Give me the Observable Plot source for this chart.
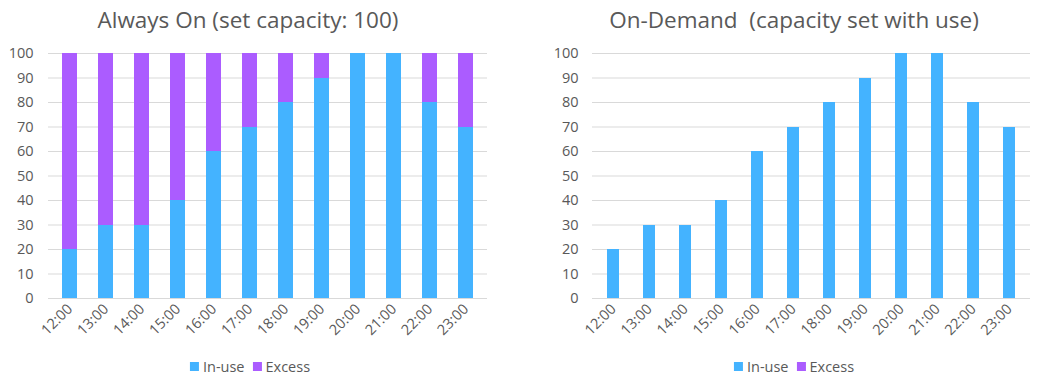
<!DOCTYPE html>
<html><head><meta charset="utf-8">
<script src="https://cdn.jsdelivr.net/npm/d3@7"></script>
<script src="https://cdn.jsdelivr.net/npm/@observablehq/plot@0.6"></script>
<style>
body{margin:0;background:#fff;font-family:"Open Sans",sans-serif;color:#595959;}
#wrap{position:relative;width:1043px;height:388px;overflow:hidden;}
.title{position:absolute;font-size:22.5px;white-space:pre;transform:translateX(-50%);top:4px;}
.chart{position:absolute;top:40px;}
.legend{position:absolute;top:357px;transform:translateX(-50%);font-size:14.5px;display:flex;align-items:center;white-space:nowrap;}
.sw{display:inline-block;width:9px;height:9px;margin-right:4px;}
.item{display:flex;align-items:center;margin-right:8px;}
</style></head>
<body><div id="wrap"></div>
<script>
const hours = ["12:00","13:00","14:00","15:00","16:00","17:00","18:00","19:00","20:00","21:00","22:00","23:00"];
const inUse = [20,30,30,40,60,70,80,90,100,100,80,70];
const excessAlwaysOn = [80,70,70,60,40,30,20,10,0,0,20,30];
const excessOnDemand = [0,0,0,0,0,0,0,0,0,0,0,0];
const seriesNames = ["In-use","Excess"];
const colors = ["#44B3FF","#AB5CFF"];
const yTicks = [0,10,20,30,40,50,60,70,80,90,100];

const wrap = document.getElementById("wrap");

function table(excess){
  const rows=[];
  hours.forEach((h,i)=>{
    rows.push({hour:h,series:seriesNames[0],value:inUse[i]});
    rows.push({hour:h,series:seriesNames[1],value:excess[i]});
  });
  return rows;
}

function chart(excess, opts){
  const p = Plot.plot({
    width: opts.width, height: 308,
    marginTop: 13, marginBottom: 50, marginLeft: opts.ml, marginRight: opts.mr,
    style:{fontFamily:'"Open Sans",sans-serif',fontSize:"14px",color:"#595959",background:"transparent"},
    x:{domain:hours,paddingInner:opts.pad,paddingOuter:opts.pad/2,label:null},
    y:{domain:[0,100],label:null},
    color:{domain:seriesNames,range:colors},
    marks:[
      Plot.gridY(yTicks,{stroke:"#D9D9D9",strokeOpacity:1,strokeWidth:1.2}),
      Plot.barY(table(excess),{x:"hour",y:"value",fill:"series",order:seriesNames,shapeRendering:"crispEdges"}),
      Plot.axisY(yTicks,{tickSize:0,tickPadding:opts.tp,label:null,fill:"#595959",fontSize:14.5}),
      Plot.axisX({tickSize:0,tickPadding:8,tickRotate:-45,label:null,fill:"#595959",fontSize:14.5})
    ]
  });
  p.classList.add("chart");
  p.style.left = opts.left+"px";
  wrap.appendChild(p);
}

chart(excessAlwaysOn,{left:0,width:500,ml:48,mr:13,pad:0.59,tp:15});
chart(excessOnDemand,{left:540,width:500,ml:52,mr:10,pad:0.67,tp:14});

function title(text,cx){
  const d=document.createElement("div");d.className="title";d.textContent=text;d.style.left=cx+"px";wrap.appendChild(d);
}
title("Always On (set capacity: 100)",248);
title("On-Demand  (capacity set with use)",794);

function legend(cx){
  const d=document.createElement("div");d.className="legend";d.style.left=cx+"px";
  seriesNames.forEach((s,i)=>{
    const it=document.createElement("span");it.className="item";
    const sw=document.createElement("span");sw.className="sw";sw.style.background=colors[i];
    it.appendChild(sw);it.appendChild(document.createTextNode(s));d.appendChild(it);
  });
  wrap.appendChild(d);
}
legend(254);legend(798);
</script></body></html>
